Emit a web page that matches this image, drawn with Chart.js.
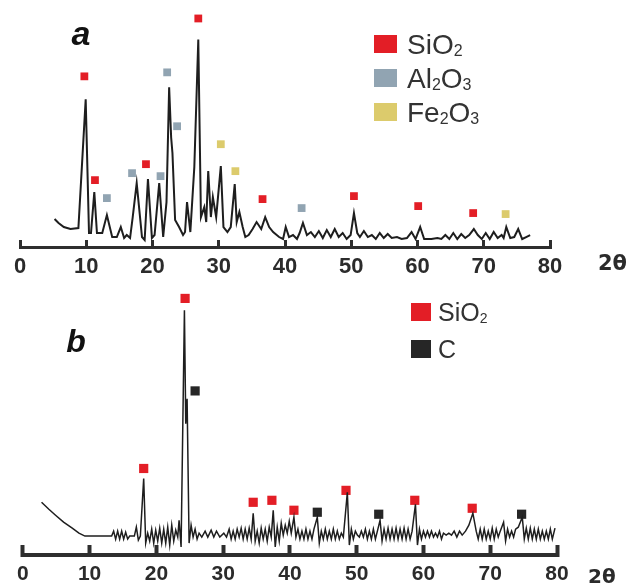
<!DOCTYPE html>
<html>
<head>
<meta charset="utf-8">
<script src="https://cdn.jsdelivr.net/npm/chart.js@4/dist/chart.umd.min.js"></script>
<style>
  html, body { margin: 0; padding: 0; background: #fff; }
  body { width: 635px; height: 587px; position: relative; overflow: hidden; }
  .panel { position: absolute; left: 0; }
  #wrapA { top: 0; }
  #wrapB { top: 280px; }
</style>
</head>
<body>
<div class="panel" id="wrapA"><canvas id="chartA" width="635" height="280"></canvas></div>
<div class="panel" id="wrapB"><canvas id="chartB" width="635" height="307"></canvas></div>
<script>
// 2θ ticks shared by both panels
const twoThetaMin = 0;
const twoThetaMax = 80;
const twoThetaStep = 10;

// panel a: raw sample pattern [2θ, intensity]
const traceA = [
  [5.2, 28], [5.8, 24], [6.6, 20], [7.6, 18], [8.8, 19], [9.9, 148], [10.4, 14],
  [10.7, 14], [11.2, 55], [11.6, 14], [12.4, 14], [13.1, 32], [13.9, 10], [14.6, 10],
  [15.2, 20], [15.7, 9], [16.1, 12], [16.6, 9], [17.0, 30], [17.6, 64], [18.4, 10],
  [18.8, 7], [19.3, 68], [19.9, 9], [20.3, 12], [21.0, 64], [21.6, 10], [22.1, 45],
  [22.5, 160], [22.8, 110], [23.0, 94], [23.4, 27], [24.0, 20], [24.6, 12], [24.9, 15],
  [25.2, 45], [25.7, 15], [26.3, 80], [26.9, 208], [27.3, 30], [27.8, 40], [28.1, 25],
  [28.4, 76], [28.8, 30], [29.1, 50], [29.6, 30], [30.3, 81], [30.7, 20], [31.3, 15],
  [31.8, 20], [32.4, 63], [32.7, 25], [33.1, 35], [33.6, 20], [34.0, 10], [34.5, 12],
  [35.1, 18], [35.7, 25], [36.4, 18], [37.0, 30], [37.6, 20], [38.2, 15], [39.1, 10],
  [39.7, 8], [40.1, 20], [40.6, 10], [41.2, 12], [41.8, 8], [42.2, 14], [42.7, 24],
  [43.3, 12], [43.9, 15], [44.5, 10], [45.1, 16], [45.7, 9], [46.3, 17], [46.9, 10],
  [47.5, 18], [48.1, 10], [48.7, 14], [49.3, 8], [49.9, 12], [50.4, 34], [50.9, 14],
  [51.3, 10], [51.9, 16], [52.5, 10], [53.1, 12], [53.7, 8], [54.3, 14], [54.9, 9],
  [55.5, 13], [56.1, 9], [56.9, 10], [57.6, 8], [58.4, 9], [59.1, 15], [59.7, 8],
  [60.4, 20], [61.0, 8], [62.1, 8], [63.0, 9], [63.6, 8], [64.2, 12], [64.8, 8],
  [65.4, 14], [66.0, 8], [66.6, 13], [67.2, 9], [67.8, 12], [68.5, 18], [69.1, 12],
  [69.7, 8], [70.3, 14], [70.9, 8], [71.5, 15], [72.1, 9], [72.7, 12], [73.0, 9],
  [73.4, 20], [74.0, 9], [74.6, 10], [75.2, 18], [75.8, 8], [76.4, 10], [77.0, 12]
];
const sio2A = [[9.7, 171], [11.3, 67], [19.0, 83], [26.9, 229], [36.6, 48], [50.4, 51], [60.1, 41], [68.4, 34]];
const al2o3A = [[13.1, 49], [16.9, 74], [21.2, 71], [22.2, 175], [23.7, 121], [42.5, 39]];
const fe2o3A = [[30.3, 103], [32.5, 76], [73.3, 33]];

// panel b: carbonised sample pattern [2θ, intensity]
const traceB = [
  [2.8, 53], [3.9, 46], [4.9, 40], [6.1, 33], [7.4, 27], [8.4, 22], [9.3, 19], [13.3, 19],
  [13.6, 24], [13.9, 16], [14.2, 24], [14.5, 16], [14.8, 24], [15.1, 16], [15.4, 23],
  [15.7, 16], [16.0, 19], [16.7, 19], [17.0, 28], [17.3, 15], [17.6, 19], [18.1, 77],
  [18.4, 12], [18.7, 22], [19.0, 14], [19.3, 26], [19.6, 12], [19.9, 25], [20.2, 14],
  [20.5, 27], [20.8, 12], [21.1, 26], [21.4, 12], [21.7, 28], [22.0, 10], [22.3, 30],
  [22.6, 14], [22.9, 25], [23.2, 18], [23.4, 35], [23.7, 8], [24.2, 246], [24.4, 132],
  [24.6, 157], [24.9, 12], [25.2, 30], [25.5, 18], [25.8, 26], [26.1, 16], [26.4, 22],
  [26.8, 18], [27.3, 24], [27.7, 18], [28.2, 25], [28.6, 18], [29.0, 24], [29.5, 18],
  [30.1, 22], [30.5, 18], [30.9, 26], [31.2, 16], [31.5, 24], [31.8, 16], [32.1, 26],
  [32.4, 18], [32.7, 27], [33.0, 16], [33.3, 26], [33.6, 16], [33.9, 27], [34.2, 16],
  [34.5, 42], [34.8, 14], [35.1, 24], [35.4, 12], [35.7, 27], [36.0, 16], [36.3, 26],
  [36.6, 14], [36.9, 28], [37.2, 18], [37.5, 45], [37.8, 8], [38.1, 28], [38.4, 14],
  [38.7, 32], [39.0, 20], [39.3, 30], [39.6, 22], [39.9, 34], [40.2, 22], [40.6, 38],
  [40.9, 18], [41.2, 26], [41.5, 16], [41.8, 24], [42.1, 16], [42.4, 26], [42.7, 16],
  [43.0, 24], [43.3, 16], [43.6, 26], [44.1, 38], [44.4, 12], [44.7, 24], [45.0, 16],
  [45.3, 26], [45.6, 16], [45.9, 24], [46.2, 16], [46.5, 26], [46.8, 16], [47.1, 24],
  [47.4, 16], [47.7, 22], [48.0, 18], [48.6, 63], [48.9, 10], [49.2, 26], [49.5, 16],
  [49.8, 24], [50.1, 20], [50.4, 18], [50.7, 24], [51.0, 18], [51.3, 26], [51.6, 16],
  [51.9, 24], [52.2, 16], [52.5, 26], [52.8, 16], [53.1, 24], [53.5, 35], [53.8, 14],
  [54.1, 26], [54.4, 16], [54.7, 27], [55.0, 16], [55.3, 26], [55.6, 16], [55.9, 27],
  [56.2, 16], [56.5, 26], [56.8, 16], [57.1, 27], [57.4, 16], [57.7, 26], [58.0, 16],
  [58.3, 24], [58.8, 51], [59.1, 10], [59.4, 26], [59.7, 16], [60.0, 24], [60.3, 18],
  [60.6, 24], [60.9, 18], [61.2, 24], [61.5, 18], [61.8, 22], [62.1, 18], [62.4, 24],
  [62.7, 16], [63.0, 22], [63.4, 20], [63.8, 22], [64.2, 20], [64.6, 24], [65.0, 18],
  [65.4, 24], [65.8, 20], [66.3, 24], [66.8, 30], [67.4, 42], [67.9, 24], [68.2, 16],
  [68.5, 26], [68.8, 16], [69.1, 26], [69.4, 16], [69.7, 24], [70.0, 16], [70.3, 27],
  [70.6, 16], [70.9, 26], [71.2, 18], [71.5, 24], [72.0, 33], [72.3, 14], [72.6, 26],
  [72.9, 18], [73.2, 24], [73.5, 18], [73.8, 26], [74.2, 28], [74.8, 38], [75.1, 16],
  [75.4, 27], [75.7, 16], [76.0, 27], [76.3, 16], [76.6, 26], [76.9, 16], [77.2, 26],
  [77.5, 16], [77.8, 24], [78.1, 16], [78.4, 24], [78.7, 16], [79.0, 26], [79.3, 16],
  [79.7, 27]
];
const sio2B = [[18.1, 87], [24.3, 258], [34.5, 53], [37.3, 55], [40.6, 45], [48.4, 65], [58.7, 55], [67.3, 47]];
const carbonB = [[25.8, 165], [44.1, 43], [53.3, 41], [74.7, 41]];

const COLOR = {
  red: "#e31e26",
  blue: "#91a4b2",
  yellow: "#dccb6c",
  black: "#262626",
  line: "#1e1e1e",
  text: "#2b2b2b",
};

const toPoints = (pairs) => pairs.map(([x, y]) => ({ x, y }));

// draws "SiO2" style formulas, digits as subscripts
function drawFormula(ctx, text, x, y, size) {
  let cx = x;
  for (const ch of text) {
    const sub = /[0-9]/.test(ch);
    ctx.font = `${sub ? Math.round(size * 0.58) : size}px "Liberation Sans", Arial, sans-serif`;
    ctx.fillText(ch, cx, sub ? y + size * 0.08 : y);
    cx += ctx.measureText(ch).width;
  }
}

const annotate = {
  id: "annotate",
  afterDraw(chart, args, opts) {
    const ctx = chart.ctx;
    ctx.save();
    ctx.fillStyle = "#111";
    ctx.textAlign = "center";
    ctx.textBaseline = "alphabetic";
    ctx.font = opts.letterFont;
    ctx.fillText(opts.letter, opts.letterX, opts.letterY);

    ctx.fillStyle = COLOR.text;
    ctx.textAlign = "left";
    ctx.font = opts.unitFont;
    ctx.fillText("2θ", opts.unitX, opts.unitY);

    opts.legend.forEach((item, i) => {
      const y = opts.legendY + i * opts.legendGap;
      ctx.fillStyle = item.color;
      ctx.fillRect(opts.legendX, y - opts.boxH / 2, opts.boxW, opts.boxH);
      ctx.fillStyle = "#333";
      drawFormula(ctx, item.label, opts.legendX + opts.boxW + opts.textGap, y + opts.legendSize * 0.36, opts.legendSize);
    });
    ctx.restore();
  },
};

function markerSet(pairs, color, radius) {
  return {
    type: "scatter",
    data: toPoints(pairs),
    showLine: false,
    pointStyle: "rect",
    pointRadius: radius,
    pointHoverRadius: radius,
    backgroundColor: color,
    borderColor: color,
    borderWidth: 0,
    clip: false,
  };
}

function renderPanel(canvas, cfg) {
  return new Chart(canvas, {
    type: "scatter",
    data: {
      datasets: [
        {
          type: "line",
          data: toPoints(cfg.trace),
          borderColor: COLOR.line,
          borderWidth: cfg.lineWidth,
          pointRadius: 0,
          tension: 0,
          fill: false,
          clip: false,
        },
        ...cfg.markers,
      ],
    },
    options: {
      responsive: false,
      animation: false,
      events: [],
      layout: { padding: cfg.padding },
      scales: {
        x: {
          type: "linear",
          min: twoThetaMin,
          max: twoThetaMax,
          afterFit: (scale) => { scale.height = cfg.axisHeight; },
          border: { display: true, color: "#2e2e2e", width: cfg.axisWidth },
          grid: {
            display: true,
            drawOnChartArea: false,
            drawTicks: true,
            tickLength: -cfg.tickLength,
            tickWidth: cfg.axisWidth,
            tickColor: "#2e2e2e",
          },
          ticks: {
            stepSize: twoThetaStep,
            padding: cfg.tickPadding,
            color: COLOR.text,
            font: { family: '"Liberation Sans", Arial, sans-serif', size: cfg.tickSize, weight: "bold" },
          },
        },
        y: { display: false, min: 0, max: cfg.yMax },
      },
      plugins: {
        legend: { display: false },
        tooltip: { enabled: false },
        annotate: cfg.annotate,
      },
    },
    plugins: [annotate],
  });
}

renderPanel(document.getElementById("chartA"), {
  trace: traceA,
  lineWidth: 2,
  markers: [
    markerSet(sio2A, COLOR.red, 5.5),
    markerSet(al2o3A, COLOR.blue, 5.5),
    markerSet(fe2o3A, COLOR.yellow, 5.5),
  ],
  padding: { left: 14, right: 85, top: 5, bottom: 0 },
  axisHeight: 33,
  axisWidth: 3,
  tickLength: 7,
  tickPadding: 14,
  tickSize: 22,
  yMax: 242,
  annotate: {
    letter: "a", letterX: 81, letterY: 45, letterFont: 'italic bold 34px "Liberation Sans", Arial, sans-serif',
    unitX: 598, unitY: 270, unitFont: 'bold 21px "DejaVu Sans", sans-serif',
    legendX: 374, legendY: 44, legendGap: 34, boxW: 23, boxH: 18, textGap: 10, legendSize: 28,
    legend: [
      { label: "SiO2", color: COLOR.red },
      { label: "Al2O3", color: COLOR.blue },
      { label: "Fe2O3", color: COLOR.yellow },
    ],
  },
});

renderPanel(document.getElementById("chartB"), {
  trace: traceB,
  lineWidth: 1.5,
  markers: [
    markerSet(sio2B, COLOR.red, 6.5),
    markerSet(carbonB, COLOR.black, 6.5),
  ],
  padding: { left: 17, right: 78, top: 5, bottom: 0 },
  axisHeight: 32,
  axisWidth: 4,
  tickLength: 10,
  tickPadding: 17,
  tickSize: 21,
  yMax: 270,
  annotate: {
    letter: "b", letterX: 76, letterY: 72, letterFont: 'italic bold 32px "Liberation Sans", Arial, sans-serif',
    unitX: 588, unitY: 303, unitFont: 'bold 20px "DejaVu Sans", sans-serif',
    legendX: 411, legendY: 32, legendGap: 37, boxW: 20, boxH: 18, textGap: 7, legendSize: 25,
    legend: [
      { label: "SiO2", color: COLOR.red },
      { label: "C", color: COLOR.black },
    ],
  },
});
</script>
</body>
</html>
